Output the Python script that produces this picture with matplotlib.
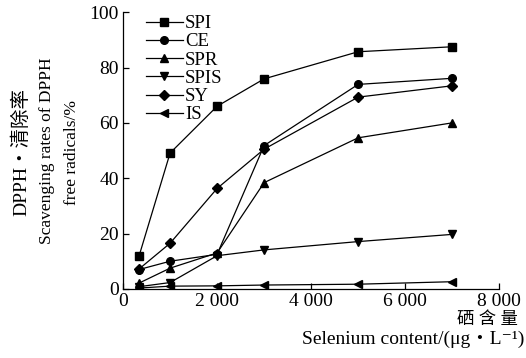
import matplotlib
matplotlib.use("Agg")
import matplotlib.pyplot as plt
from matplotlib.ticker import FixedLocator

plt.rcParams['font.family'] = ['Liberation Serif', 'Noto Sans CJK SC', 'DejaVu Serif']

# selenium content (ug/L)
se = [340, 1000, 2000, 3000, 5000, 7000]

spi = [11.9, 49.1, 66.0, 75.9, 85.7, 87.5]
ce = [7.0, 10.0, 12.5, 51.8, 73.9, 76.1]
spr = [2.1, 7.5, 13.0, 38.4, 54.6, 60.0]
spis = [0.8, 2.3, 12.0, 14.1, 17.1, 19.7]
sy = [7.2, 16.5, 36.3, 50.5, 69.3, 73.4]
is_ = [0.3, 1.0, 1.1, 1.4, 1.7, 2.6]

series = [("SPI", spi, "s"), ("CE", ce, "o"), ("SPR", spr, "^"),
          ("SPIS", spis, "v"), ("SY", sy, "D"), ("IS", is_, "<")]

xticks = [0, 2000, 4000, 6000, 8000]
xticklabels = ["0", "2 000", "4 000", "6 000", "8 000"]
yticks = [0, 20, 40, 60, 80, 100]

fig = plt.figure(figsize=(5.26, 3.58), dpi=100)
ax = fig.add_axes([0.234, 0.193, 0.715, 0.773])

for name, vals, m in series:
    ms = 5.5 if m in ("s", "o") else 6
    if m == "D":
        ms = 5
    ax.plot(se, vals, color="black", lw=0.9, marker=m, markersize=ms, label=name)

ax.set_xlim(0, 8000)
ax.set_ylim(0, 100)
ax.xaxis.set_major_locator(FixedLocator(xticks))
ax.set_xticklabels(xticklabels)
ax.set_yticks(yticks)
ax.tick_params(direction="in", length=4, width=0.9, labelsize=14, pad=3)
for s in ("top", "right"):
    ax.spines[s].set_visible(False)
for s in ("left", "bottom"):
    ax.spines[s].set_linewidth(0.9)

ax.legend(loc="upper left", bbox_to_anchor=(0.03, 1.03), frameon=False,
          fontsize=13.5, handlelength=2.0, handletextpad=0.1,
          labelspacing=0.06, borderaxespad=0.2)

fig.text(0.04, 0.575, "DPPH・清除率", rotation=90, ha="center", va="center", fontsize=14)
fig.text(0.089, 0.58, "Scavenging rates of DPPH", rotation=90,
         ha="center", va="center", fontsize=12.5)
fig.text(0.137, 0.575, "free radicals/%", rotation=90,
         ha="center", va="center", fontsize=12.5)
fig.text(0.985, 0.106, "硒 含 量", ha="right", va="center", fontsize=12.5)
fig.text(0.997, 0.053, "Selenium content/(μg・L⁻¹)", ha="right", va="center", fontsize=14)

fig.savefig("out.png", dpi=100)
